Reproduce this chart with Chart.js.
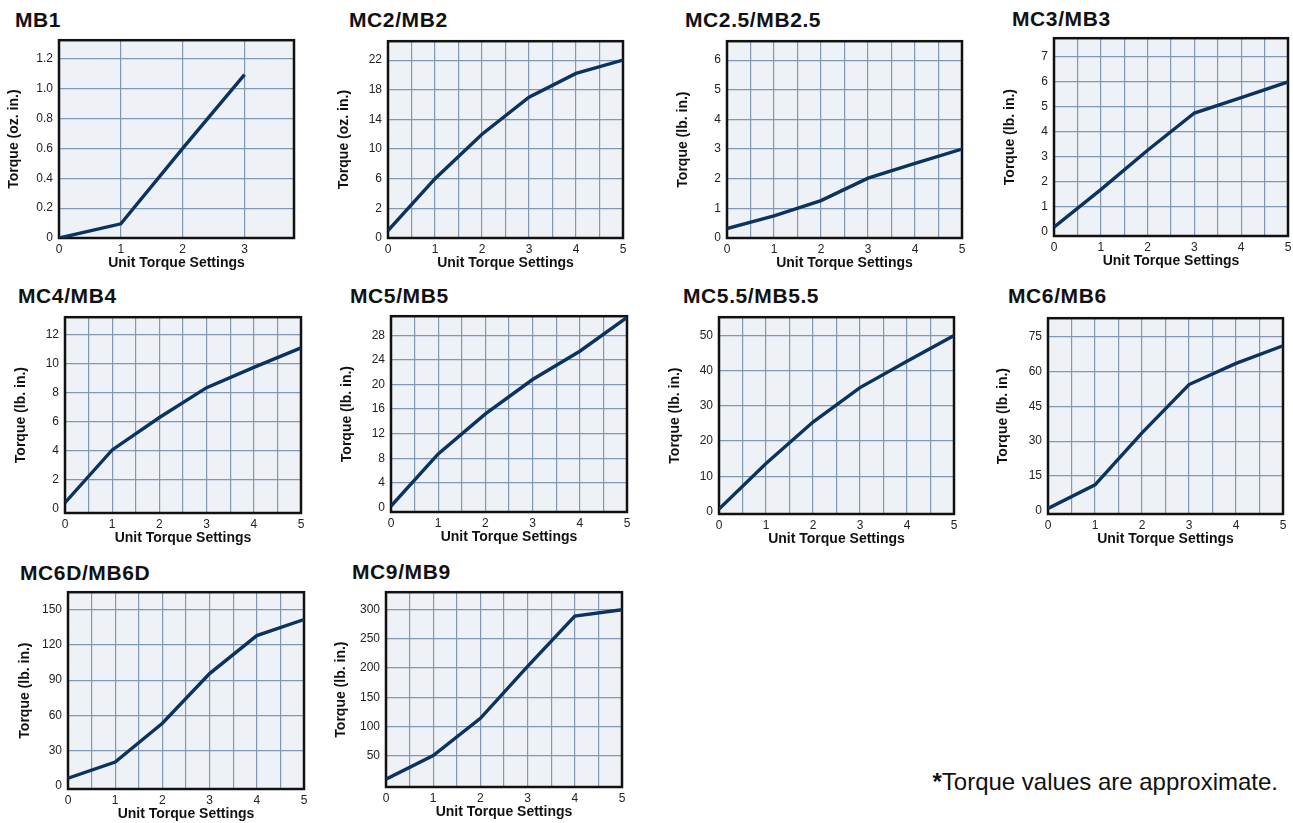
<!DOCTYPE html>
<html>
<head>
<meta charset="utf-8">
<script src="https://cdn.jsdelivr.net/npm/chart.js@4.4.1/dist/chart.umd.min.js"></script>
<style>
    body { margin: 0; width: 1293px; height: 823px; overflow: hidden; background: #fff; position: relative;
           font-family: "Liberation Sans", Arial, Helvetica, sans-serif; }
    canvas { position: absolute; }
    .ttl { position: absolute; font-weight: bold; font-size: 21px; line-height: 21px; letter-spacing: .6px;
           color: #111; white-space: nowrap; }
    .note { position: absolute; right: 15px; top: 770px; font-size: 24px; line-height: 24px; color: #111; }
</style>
</head>
<body>
<div class="note"><b>*</b>Torque values are approximate.</div>
<script>
// unit torque settings (x axis)
var settings = [0, 1, 2, 3, 4, 5];
var settingsMB1 = [0, 1, 2, 3];
var halfSteps = [0, 0.5, 1, 1.5, 2, 2.5, 3, 3.5, 4, 4.5, 5];

// torque
var mb1 = [0, 0.095, 0.6, 1.095];
var mc2 = [0.5, 6, 12, 17, 20.2, 22];
var mc25 = [0.32, 0.75, 1.26, 2.02, 2.52, 3.0];
var mc3 = [0.17, 1.68, 3.26, 4.75, 5.37, 6.0];
var mc4 = [0.4, 4.04, 6.28, 8.34, 9.74, 11.08];
var mc5 = [0.2, 8.7, 15.2, 20.8, 25.4, 30.9];
var mc55 = [0.65, 13.6, 25.4, 35.2, 42.7, 50];
var mc6 = [1.0, 11.2, 33.6, 54.4, 63.5, 71.1];
var mc6d = [6.4, 20.2, 53.3, 95.6, 128, 141.7];
var mc9 = [9.4, 50, 113.9, 202.8, 288.9, 300];

// y tick labels
var ticksMB1 = [0, 0.2, 0.4, 0.6, 0.8, 1.0, 1.2];
var ticksMC2 = [0, 2, 6, 10, 14, 18, 22];
var ticksMC25 = [0, 1, 2, 3, 4, 5, 6];
var ticksMC3 = [0, 1, 2, 3, 4, 5, 6, 7];
var ticksMC4 = [0, 2, 4, 6, 8, 10, 12];
var ticksMC5 = [0, 4, 8, 12, 16, 20, 24, 28];
var ticksMC55 = [0, 10, 20, 30, 40, 50];
var ticksMC6 = [0, 15, 30, 45, 60, 75];
var ticksMC6D = [0, 30, 60, 90, 120, 150];
var ticksMC9 = [50, 100, 150, 200, 250, 300];

// MC2 axis has its 0..2 band drawn as tall as a 4 unit band
function mc2Scale(v) { return v < 2 ? v * 2 - 2 : v; }

var OZ = 'Torque (oz. in.)', LB = 'Torque (lb. in.)';

// name, y title, x, y, y ticks, y range, x max, plot box [l,t,r,b], canvas left, title pos
var charts = [
    {name: 'MB1', yTitle: OZ, xs: settingsMB1, ys: mb1, yTicks: ticksMB1, yMin: 0, yMax: 1.325, xMax: 3.8, xTicks: settingsMB1,
     box: [59, 35, 294, 238], cl: 2, tx: 15, ty: 9, dec: true},
    {name: 'MC2/MB2', yTitle: OZ, xs: settings, ys: mc2, yTicks: ticksMC2, yMin: -2, yMax: 24.55, xMax: 5, xTicks: halfSteps,
     box: [388, 36, 623, 238], cl: 332, tx: 349, ty: 9, map: mc2Scale},
    {name: 'MC2.5/MB2.5', yTitle: LB, xs: settings, ys: mc25, yTicks: ticksMC25, yMin: 0, yMax: 6.64, xMax: 5, xTicks: halfSteps,
     box: [727, 36, 962, 238], cl: 671, tx: 685, ty: 9},
    {name: 'MC3/MB3', yTitle: LB, xs: settings, ys: mc3, yTicks: ticksMC3, yMin: -0.18, yMax: 7.75, xMax: 5, xTicks: halfSteps,
     box: [1054, 33, 1288, 236], cl: 998, tx: 1012, ty: 8},
    {name: 'MC4/MB4', yTitle: LB, xs: settings, ys: mc4, yTicks: ticksMC4, yMin: -0.31, yMax: 13.2, xMax: 5, xTicks: halfSteps,
     box: [65, 312, 301, 513], cl: 9, tx: 18, ty: 285},
    {name: 'MC5/MB5', yTitle: LB, xs: settings, ys: mc5, yTicks: ticksMC5, yMin: -0.75, yMax: 31.1, xMax: 5, xTicks: halfSteps,
     box: [391, 311, 627, 512], cl: 335, tx: 350, ty: 285},
    {name: 'MC5.5/MB5.5', yTitle: LB, xs: settings, ys: mc55, yTicks: ticksMC55, yMin: -0.74, yMax: 55.2, xMax: 5, xTicks: halfSteps,
     box: [719, 312, 954, 514], cl: 663, tx: 683, ty: 285},
    {name: 'MC6/MB6', yTitle: LB, xs: settings, ys: mc6, yTicks: ticksMC6, yMin: -1.4, yMax: 83, xMax: 5, xTicks: halfSteps,
     box: [1048, 313, 1283, 514], cl: 991, tx: 1008, ty: 285},
    {name: 'MC6D/MB6D', yTitle: LB, xs: settings, ys: mc6d, yTicks: ticksMC6D, yMin: -2.8, yMax: 165, xMax: 5, xTicks: halfSteps,
     box: [68, 587, 304, 789], cl: 13, tx: 20, ty: 562},
    {name: 'MC9/MB9', yTitle: LB, xs: settings, ys: mc9, yTicks: ticksMC9, yMin: -3.9, yMax: 330, xMax: 5, xTicks: halfSteps,
     box: [386, 587, 622, 787], cl: 329, tx: 352, ty: 561}
];

Chart.defaults.font.family = '"Liberation Sans", Arial, Helvetica, sans-serif';
Chart.defaults.color = '#222';

var GRID = '#8198b5';
var TOP_PAD = 8, RIGHT_PAD = 8, X_AXIS_H = 36;

// light panel behind the plot and the black frame round it
var plotFrame = {
    id: 'plotFrame',
    beforeDraw: function (chart) {
        var a = chart.chartArea, c = chart.ctx;
        c.save();
        c.fillStyle = '#eef2f6';
        c.fillRect(a.left, a.top, a.right - a.left, a.bottom - a.top);
        c.restore();
    },
    beforeDatasetsDraw: function (chart) {
        var a = chart.chartArea, c = chart.ctx;
        c.save();
        c.strokeStyle = '#111';
        c.lineWidth = 2.5;
        c.strokeRect(a.left, a.top, a.right - a.left, a.bottom - a.top);
        c.restore();
    }
};

charts.forEach(function (cfg) {
    var l = cfg.box[0], t = cfg.box[1], r = cfg.box[2], b = cfg.box[3];
    var map = cfg.map || function (v) { return v; };

    var title = document.createElement('div');
    title.className = 'ttl';
    title.style.left = cfg.tx + 'px';
    title.style.top = cfg.ty + 'px';
    title.textContent = cfg.name;
    document.body.appendChild(title);

    var canvas = document.createElement('canvas');
    var w = r + RIGHT_PAD - cfg.cl;
    var h = TOP_PAD + (b - t) + X_AXIS_H;
    canvas.width = w;
    canvas.height = h;
    canvas.style.left = cfg.cl + 'px';
    canvas.style.top = (t - TOP_PAD) + 'px';
    document.body.appendChild(canvas);

    var points = cfg.xs.map(function (x, i) { return {x: x, y: map(cfg.ys[i])}; });
    var yLabels = cfg.yTicks.map(function (v) { return cfg.dec && v !== 0 ? v.toFixed(1) : String(v); });

    new Chart(canvas, {
        type: 'line',
        data: {
            datasets: [{
                data: points,
                borderColor: '#0b335f',
                borderWidth: 3.4,
                pointRadius: 0,
                tension: 0,
                fill: false
            }]
        },
        options: {
            responsive: false,
            animation: false,
            events: [],
            layout: {padding: {top: TOP_PAD, right: RIGHT_PAD, left: 0, bottom: 0}},
            plugins: {legend: {display: false}, tooltip: {enabled: false}},
            scales: {
                x: {
                    type: 'linear',
                    min: 0,
                    max: cfg.xMax,
                    afterBuildTicks: function (s) { s.ticks = cfg.xTicks.map(function (v) { return {value: v}; }); },
                    afterFit: function (s) { s.height = X_AXIS_H; },
                    grid: {
                        drawTicks: false,
                        lineWidth: 1.2,
                        color: function (ctx) { return ctx.tick && ctx.tick.value > 0 ? GRID : 'rgba(0,0,0,0)'; }
                    },
                    border: {display: false},
                    ticks: {
                        padding: 4,
                        maxRotation: 0,
                        autoSkip: false,
                        font: {size: 12},
                        callback: function (v) { return Number.isInteger(v) ? String(v) : ''; }
                    },
                    title: {
                        display: true,
                        text: 'Unit Torque Settings',
                        color: '#111',
                        font: {size: 14, weight: 'bold'},
                        padding: {top: 0, bottom: 2}
                    }
                },
                y: {
                    type: 'linear',
                    min: cfg.yMin,
                    max: cfg.yMax,
                    afterBuildTicks: function (s) { s.ticks = cfg.yTicks.map(function (v) { return {value: map(v)}; }); },
                    afterFit: function (s) { s.width = l - cfg.cl; },
                    grid: {
                        drawTicks: false,
                        lineWidth: 1.2,
                        color: function (ctx) { return ctx.tick && ctx.tick.value > 0 ? GRID : 'rgba(0,0,0,0)'; }
                    },
                    border: {display: false},
                    ticks: {
                        padding: 6,
                        autoSkip: false,
                        font: {size: 12},
                        callback: function (v, i) { return yLabels[i]; }
                    },
                    title: {
                        display: true,
                        text: cfg.yTitle,
                        color: '#111',
                        font: {size: 14, weight: 'bold'},
                        padding: {top: 4, bottom: 4}
                    }
                }
            }
        },
        plugins: [plotFrame]
    });
});
</script>
</body>
</html>
